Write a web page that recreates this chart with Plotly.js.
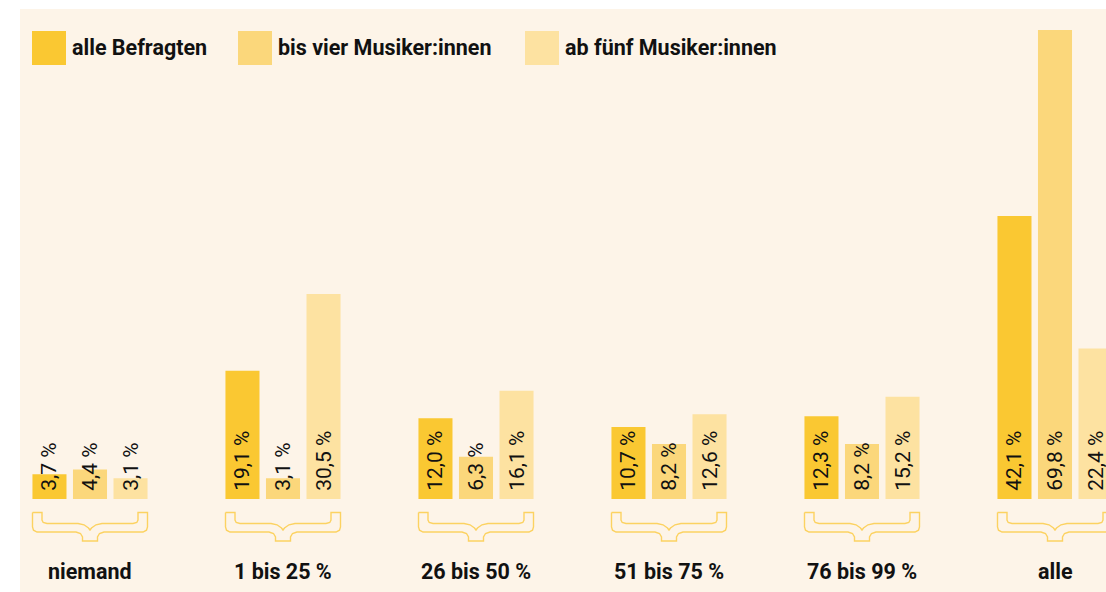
<!DOCTYPE html>
<html>
<head>
<meta charset="utf-8">
<script src="https://cdn.plot.ly/plotly-3.0.1.min.js"></script>
<style>
html,body{margin:0;padding:0;background:#ffffff;}
#chart{width:1106px;height:592px;}
</style>
</head>
<body>
<div id="chart"></div>
<script>
// ---- data ----
const categories = ["niemand", "1 bis 25 %", "26 bis 50 %", "51 bis 75 %", "76 bis 99 %", "alle"];
const seriesNames = ["alle Befragten", "bis vier Musiker:innen", "ab fünf Musiker:innen"];
const alleBefragten = [3.7, 19.1, 12.0, 10.7, 12.3, 42.1];
const bisVier = [4.4, 3.1, 6.3, 8.2, 8.2, 69.8];
const abFuenf = [3.1, 30.5, 16.1, 12.6, 15.2, 22.4];
const seriesColors = ["#FAC832", "#FBD77B", "#FDE2A1"];

// ---- layout geometry ----
const W = 1106, H = 592;
const plotL = 20, plotT = 9;
const plotW = W - plotL, plotH = H - plotT;
const baseY = 499;             // pixel of the zero line
const pxPerUnitY = 6.72;       // pixels per percent
const firstCenter = 90, pxPerCat = 193;
const xRange = [(plotL - firstCenter) / pxPerCat, (W - firstCenter) / pxPerCat];
const yRange = [-(H - baseY) / pxPerUnitY, (baseY - plotT) / pxPerUnitY];
const bg = "#FDF4E8";
const FONT = "Roboto, 'Noto Sans', Arial, sans-serif";

const xs = categories.map((c, i) => i);
const fmt = v => "\u00a0" + v.toFixed(1).replace(".", ",") + " %";
const allSeries = [alleBefragten, bisVier, abFuenf];

const traces = allSeries.map((vals, k) => ({
  type: "bar",
  name: seriesNames[k],
  x: xs,
  y: vals,
  marker: {color: seriesColors[k], line: {width: 0}},
  text: vals.map(fmt),
  textposition: "inside",
  insidetextanchor: "start",
  textangle: -90,
  constraintext: "none",
  textfont: {family: FONT, size: 21, color: "#111111"},
  hoverinfo: "skip",
  showlegend: false,
  cliponaxis: true
}));

// braces below each group (pixel offsets from group centre / baseline)
const braceOffsets = [
  [-57.5, 13.5], [-57.5, 28], [-56.5, 31.2], [-53, 33], [-14, 33], [-9.5, 34.5], [-7.5, 38], [-7.5, 42],
  [7.5, 42], [7.5, 38], [9.5, 34.5], [14, 33], [53, 33], [56.5, 31.2], [57.5, 28], [57.5, 13.5],
  [48, 13.5], [48, 21], [46.8, 23.5], [43, 24.5], [12, 24.5], [6, 25.8], [1.5, 29], [0, 31],
  [-1.5, 29], [-6, 25.8], [-12, 24.5], [-43, 24.5], [-46.8, 23.5], [-48, 21], [-48, 13.5], [-57.5, 13.5]
];
const bx = [], by = [];
xs.forEach(i => {
  braceOffsets.forEach(([dx, dy]) => {
    bx.push(i + dx / pxPerCat);
    by.push(-dy / pxPerUnitY);
  });
  bx.push(null); by.push(null);
});
traces.push({
  type: "scatter", mode: "lines", x: bx, y: by,
  line: {color: "#FCD261", width: 1.4},
  hoverinfo: "skip", showlegend: false, cliponaxis: true
});

// category labels
const annotations = categories.map((c, i) => ({
  x: i, y: -(571 - baseY) / pxPerUnitY, xref: "x", yref: "y",
  text: "<b>" + c + "</b>", showarrow: false,
  font: {family: FONT, size: 21.5, color: "#111111"},
  xanchor: "center", yanchor: "middle"
}));

// manual legend
const px2paperX = p => (p - plotL) / plotW;
const px2paperY = p => (H - p) / plotH;
const legendX = [32, 238, 525];
const legendTop = 31, legendSize = 34;
const shapes = [];
seriesNames.forEach((n, k) => {
  shapes.push({
    type: "rect", xref: "paper", yref: "paper",
    x0: px2paperX(legendX[k]), x1: px2paperX(legendX[k] + legendSize),
    y0: px2paperY(legendTop + legendSize), y1: px2paperY(legendTop),
    fillcolor: seriesColors[k], line: {width: 0}, layer: "above"
  });
  annotations.push({
    xref: "paper", yref: "paper",
    x: px2paperX(legendX[k] + legendSize + 4), y: px2paperY(legendTop + legendSize / 2),
    text: "<b>" + n + "</b>", showarrow: false, xanchor: "left", yanchor: "middle",
    font: {family: FONT, size: 21.5, color: "#111111"}
  });
});

const layout = {
  width: W, height: H,
  margin: {l: plotL, r: 0, t: plotT, b: 0, pad: 0},
  paper_bgcolor: "#ffffff",
  plot_bgcolor: bg,
  barmode: "group",
  bargap: 0.37,
  bargroupgap: 0.16,
  showlegend: false,
  xaxis: {range: xRange, visible: false, showgrid: false, zeroline: false, fixedrange: true},
  yaxis: {range: yRange, visible: false, showgrid: false, zeroline: false, fixedrange: true},
  annotations: annotations,
  shapes: shapes,
  font: {family: FONT}
};

Plotly.newPlot("chart", traces, layout, {displayModeBar: false, staticPlot: true});
</script>
</body>
</html>
